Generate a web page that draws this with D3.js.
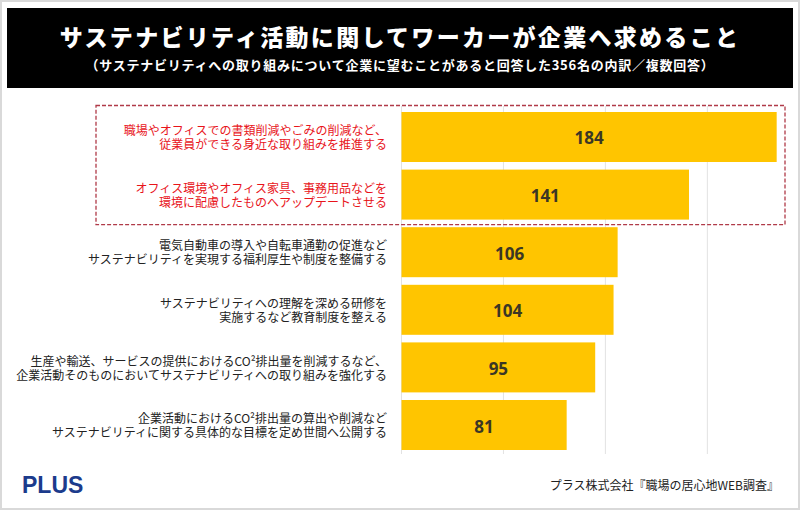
<!DOCTYPE html>
<html><head><meta charset="utf-8">
<script src="https://cdn.jsdelivr.net/npm/d3@7"></script>
<style>
html,body{margin:0;padding:0;background:#fff;}
svg{display:block;font-family:"Noto Sans CJK JP","Noto Sans",sans-serif;}
</style></head>
<body>
<svg id="chart" width="800" height="510"></svg>
<script>
const title = "サステナビリティ活動に関してワーカーが企業へ求めること";
const subtitle = "（サステナビリティへの取り組みについて企業に望むことがあると回答した356名の内訳／複数回答）";
const categories = [
  ["職場やオフィスでの書類削減やごみの削減など、", "従業員ができる身近な取り組みを推進する"],
  ["オフィス環境やオフィス家具、事務用品などを", "環境に配慮したものへアップデートさせる"],
  ["電気自動車の導入や自転車通勤の促進など", "サステナビリティを実現する福利厚生や制度を整備する"],
  ["サステナビリティへの理解を深める研修を", "実施するなど教育制度を整える"],
  ["生産や輸送、サービスの提供におけるCO²排出量を削減するなど、", "企業活動そのものにおいてサステナビリティへの取り組みを強化する"],
  ["企業活動におけるCO²排出量の算出や削減など", "サステナビリティに関する具体的な目標を定め世間へ公開する"]
];
const values = [184, 141, 106, 104, 95, 81];
const highlighted = [true, true, false, false, false, false];
const gridTicks = [0, 50, 100, 150];
const source = "プラス株式会社『職場の居心地WEB調査』";
const logo = "PLUS";

const svg = d3.select("#chart");
const W = 800, H = 510;

// outer frame
svg.append("rect").attr("x", 1).attr("y", 1).attr("width", W - 2).attr("height", H - 2)
  .attr("fill", "#fff").attr("stroke", "#d9d9d9").attr("stroke-width", 2);

// banner
svg.append("rect").attr("x", 7).attr("y", 8).attr("width", 786).attr("height", 80).attr("fill", "#000");
svg.append("text").attr("x", 400).attr("y", 35.5).attr("text-anchor", "middle")
  .attr("dominant-baseline", "central").attr("fill", "#fff")
  .attr("font-size", 23).attr("font-weight", 900).attr("letter-spacing", 2.3).text(title);
svg.append("text").attr("x", 400).attr("y", 64.5).attr("text-anchor", "middle")
  .attr("dominant-baseline", "central").attr("fill", "#fff")
  .attr("font-size", 13).attr("font-weight", 700).attr("letter-spacing", 0.75).text(subtitle);

// scales
const x = d3.scaleLinear().domain([0, 200]).range([401.5, 809.3]);
const y = d3.scaleBand().domain(d3.range(values.length)).range([112, 450]).paddingInner(0.132).paddingOuter(0);

// grid
svg.append("g").selectAll("line").data(gridTicks).join("line")
  .attr("x1", d => x(d)).attr("x2", d => x(d))
  .attr("y1", 106).attr("y2", 454)
  .attr("stroke", "#e2e2e2").attr("stroke-width", 1);

// bars
svg.append("g").selectAll("rect").data(values).join("rect")
  .attr("x", x(0)).attr("y", (d, i) => y(i))
  .attr("width", d => x(d) - x(0)).attr("height", y.bandwidth())
  .attr("fill", "#FFC500");

// value labels
svg.append("g").selectAll("text").data(values).join("text")
  .attr("x", d => (x(0) + x(d)) / 2).attr("y", (d, i) => y(i) + y.bandwidth() / 2 + 1)
  .attr("text-anchor", "middle").attr("dominant-baseline", "central")
  .attr("font-family", "'Open Sans','Noto Sans',sans-serif")
  .attr("font-size", 17).attr("font-weight", 700).attr("fill", "#3b3725")
  .text(d => d);

// category labels (two-line wrapped text)
const lab = svg.append("g");
categories.forEach((lines, i) => {
  const cy = y(i) + y.bandwidth() / 2 + 1;
  const t = lab.append("text").attr("text-anchor", "end")
    .attr("font-size", 12).attr("fill", highlighted[i] ? "#e8141b" : "#222");
  lines.forEach((ln, j) => {
    t.append("tspan").attr("x", 387).attr("y", cy + (j - 0.5) * 14 + 4.3).text(ln);
  });
});

// highlight dashed box
const hiIdx = highlighted.map((h, i) => h ? i : -1).filter(i => i >= 0);
svg.append("rect").attr("x", 96).attr("y", y(hiIdx[0]) - 6.5)
  .attr("width", 689).attr("height", y(hiIdx[hiIdx.length - 1]) + y.bandwidth() + 5 - (y(hiIdx[0]) - 6.5))
  .attr("fill", "none").attr("stroke", "#b03a48").attr("stroke-width", 1.3)
  .attr("stroke-dasharray", "4,2");

// footer
svg.append("text").attr("x", 22).attr("y", 493.3)
  .attr("font-family", "'Liberation Sans','Roboto',sans-serif")
  .attr("font-size", 23).attr("font-weight", 700).attr("fill", "#1c3b8c").text(logo);
svg.append("text").attr("x", 779).attr("y", 484).attr("text-anchor", "end").attr("dominant-baseline", "central")
  .attr("font-size", 12).attr("fill", "#222").text(source);
</script>
</body></html>
